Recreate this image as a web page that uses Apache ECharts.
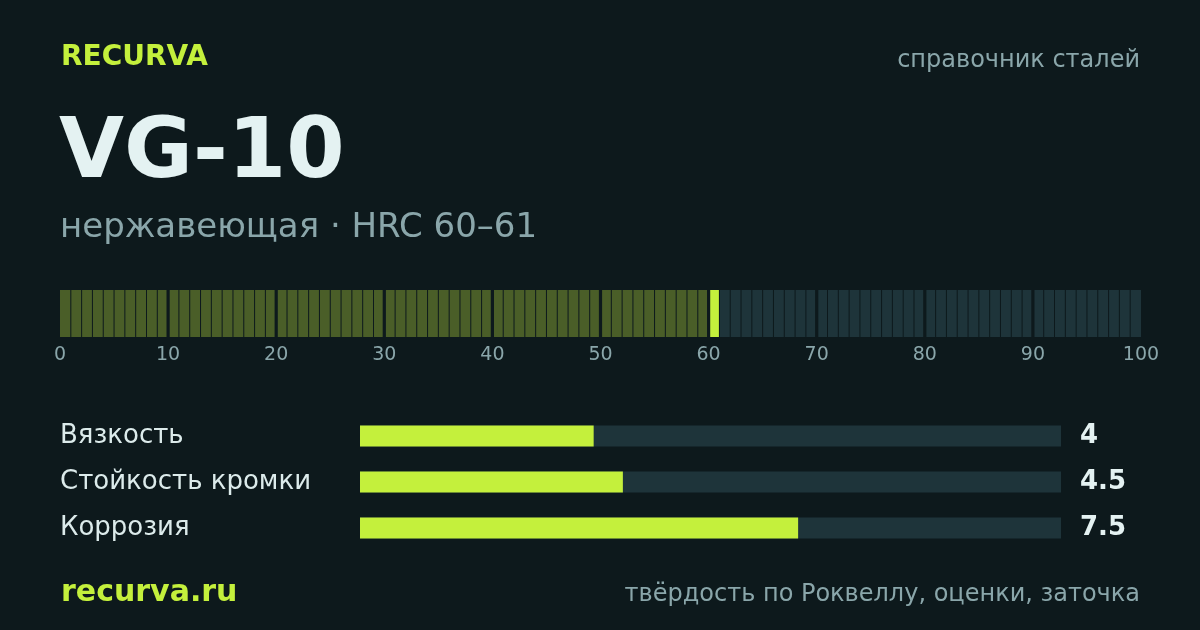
<!DOCTYPE html>
<html>
<head>
<meta charset="utf-8">
<script src="https://cdn.jsdelivr.net/npm/echarts@6/dist/echarts.min.js"></script>
<style>
html,body{margin:0;padding:0;background:#0d191c;}
#c{width:1200px;height:630px;}
</style>
</head>
<body>
<div id="c"></div>
<script>
// ---- data ----
const brand = 'RECURVA';
const section = 'справочник сталей';
const steelName = 'VG-10';
const subtitle = 'нержавеющая · HRC 60–61';
const hrcRange = [60, 61];          // HRC min / max
const scaleTicks = [0, 10, 20, 30, 40, 50, 60, 70, 80, 90, 100];
const ratingNames = ['Вязкость', 'Стойкость кромки', 'Коррозия'];
const ratingValues = [4, 4.5, 7.5];
const ratingMax = 12;
const footerLeft = 'recurva.ru';
const footerRight = 'твёрдость по Роквеллу, оценки, заточка';

// ---- colours ----
const BG = '#0d191c', LIME = '#c4f03c', OLIVE = '#4a5e28', TRACK = '#1e343a',
      MUTED = '#8aa6aa', WHITE = '#e4f2f2', LABEL = '#dcebeb';
const FONT = '"DejaVu Sans", sans-serif';

// one cell per HRC unit on the 0–100 scale
const cells = [];
for (let i = scaleTicks[0]; i < scaleTicks[scaleTicks.length - 1]; i++) {
  let state = i < hrcRange[0] ? 'filled' : (i < hrcRange[1] ? 'current' : 'empty');
  cells.push([i, i + 1, state]);
}

const chart = echarts.init(document.getElementById('c'), null, {renderer: 'canvas'});

const option = {
  backgroundColor: BG,
  animation: false,
  textStyle: {fontFamily: FONT},
  grid: [
    {left: 60, right: 59, top: 290, height: 47},
    {left: 360, right: 139, top: 413, height: 138}
  ],
  xAxis: [
    {
      gridIndex: 0, type: 'value', min: 0, max: 100, interval: 10,
      axisLine: {show: false}, axisTick: {show: false}, splitLine: {show: false},
      axisLabel: {color: MUTED, fontSize: 19, margin: 9, fontFamily: FONT}
    },
    {
      gridIndex: 1, type: 'value', min: 0, max: ratingMax, show: false
    }
  ],
  yAxis: [
    {gridIndex: 0, type: 'value', min: 0, max: 1, show: false},
    {
      gridIndex: 1, type: 'category', data: ratingNames, inverse: true,
      axisLine: {show: false}, axisTick: {show: false}, splitLine: {show: false},
      axisLabel: {color: LABEL, fontSize: 26, align: 'left', margin: 300, padding: [9, 0, 0, 0], fontFamily: FONT}
    },
    {
      gridIndex: 1, type: 'category', data: ratingValues.map(String), inverse: true, position: 'right',
      axisLine: {show: false}, axisTick: {show: false}, splitLine: {show: false},
      axisLabel: {color: WHITE, fontSize: 26, fontWeight: 'bold', align: 'left', margin: 19, padding: [7, 0, 0, 0], fontFamily: FONT}
    }
  ],
  series: [
    {
      type: 'custom',
      xAxisIndex: 0, yAxisIndex: 0,
      data: cells,
      encode: {x: [0, 1]},
      renderItem: function (params, api) {
        const a = api.value(0), b = api.value(1);
        const p0 = api.coord([a, 1]);
        const p1 = api.coord([b, 0]);
        let l = a === 0 ? 0 : (a % 10 === 0 ? 1.6 : 0.5);
        let r = b === 100 ? 0 : (b % 10 === 0 ? 1.6 : 0.5);
        const st = cells[params.dataIndex][2];
        const color = st === 'filled' ? OLIVE : (st === 'current' ? LIME : TRACK);
        return {
          type: 'rect',
          shape: {x: p0[0] + l, y: p0[1], width: p1[0] - p0[0] - l - r, height: p1[1] - p0[1]},
          style: {fill: color}
        };
      }
    },
    {
      type: 'bar',
      xAxisIndex: 1, yAxisIndex: 1,
      data: ratingValues,
      barWidth: 21,
      itemStyle: {color: LIME},
      showBackground: true,
      backgroundStyle: {color: TRACK}
    }
  ],
  graphic: [
    {type: 'text', left: 61, top: 44, style: {text: brand, fill: LIME, font: 'bold 28px ' + FONT}},
    {type: 'text', right: 60, top: 49, style: {text: section, fill: MUTED, font: '24px ' + FONT}},
    {type: 'text', left: 59, top: 113, style: {text: steelName, fill: WHITE, font: 'bold 84px ' + FONT}},
    {type: 'text', left: 60, top: 211, style: {text: subtitle, fill: MUTED, font: '34px ' + FONT}},
    {type: 'text', left: 61, top: 578, style: {text: footerLeft, fill: LIME, font: 'bold 30px ' + FONT}},
    {type: 'text', right: 60, top: 583, style: {text: footerRight, fill: MUTED, font: '24px ' + FONT}}
  ]
};
chart.setOption(option);
</script>
</body>
</html>
